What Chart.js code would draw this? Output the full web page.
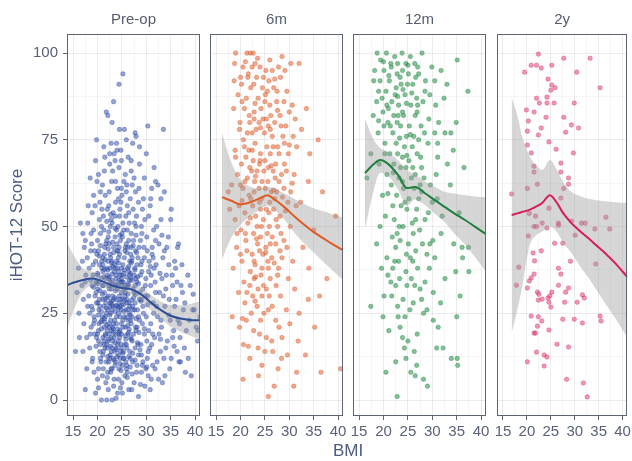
<!DOCTYPE html>
<html>
<head>
<meta charset="utf-8">
<script src="https://cdn.jsdelivr.net/npm/chart.js@4.4.1/dist/chart.umd.min.js"></script>
<style>
  html, body { margin: 0; padding: 0; background: #ffffff; }
  #wrap { position: relative; width: 632px; height: 461px; }
  #wrap canvas { position: absolute; left: 0; top: 0; }
</style>
</head>
<body>
<div id="wrap">
  <canvas id="p0" width="632" height="461"></canvas>
  <canvas id="p1" width="632" height="461"></canvas>
  <canvas id="p2" width="632" height="461"></canvas>
  <canvas id="p3" width="632" height="461"></canvas>
</div>
<script>
// Facets and axes
const panelNames = ['Pre-op', '6m', '12m', '2y'];
const xTicks = [15, 20, 25, 30, 35, 40];
const yTicks = [0, 25, 50, 75, 100];
const xLimits = [13.75, 41];
const yLimits = [-4.6, 105.5];
const xTitle = 'BMI';
const yTitle = 'iHOT-12 Score';

// Observations: [BMI, iHOT-12 score]
const preopPoints = [
  [25.2,94],[24.4,91],[23.3,86],[21.8,83],[22.1,82],[23,80],[30.3,79],[33.5,78],[25.5,78],[27.7,77],[27.9,76],[19.8,75],[22.8,74],[27.2,74],[24,72],[23.4,71],[24.8,72],[21.5,70],[26.3,70],[28.6,68],[30,71],[22.5,68],[23.1,66],[25.7,65],[24.4,67],[20.2,65],[18.5,64],[27.5,64],[31.9,63],[32.4,62],[33.7,60],[26,62],[21,62],[22.4,60],[24.1,61],[25,59],[28.5,61],[29.4,58],[20.5,57],[23.7,57],[26.7,58],[30.8,56],[19.5,56],[22,55],[24.6,55],[27.3,55],[21.2,53],[25.8,53],[28,53],[30.5,53],[33,52],[35,52],[18,51],[16.5,51],[23,51],[26.5,51],[29,50],[31.5,49],
  [17,48],[19.2,49],[20.6,48],[22.2,47],[23.9,49],[25.1,47],[26.9,48],[28.8,46],[30.1,47],[32.6,45],[34.2,44],[36.4,44],[20,46],[21.7,45],[23.3,44],[24.7,46],[26.2,44],[27.8,43],[29.5,44],[31.2,42],[33.4,41],[35.8,40],[38.5,36],[18.6,43],[19.9,42],[21.1,41],[22.6,42],[24,43],[25.5,41],[27,40],[28.3,41],[30.6,40],[32,39],[34.6,39],[16.9,40],[18.3,38],[20.4,39],[21.9,38],[23.5,39],[24.9,38],[26.4,37],[27.6,38],[29.1,37],[31,36],[33.2,35],[35.3,36],[37.1,33],[19.1,36],[20.8,35],[22.3,35],[23.8,36],[25.3,34],[26.8,35],[28.1,34],[29.8,33],[31.8,34],[34,32],[17.5,34],[18.9,33],[20.1,32],[21.4,31],[22.9,32],[24.2,33],[25.7,31],[27.3,32],[28.7,31],[30.3,30],[32.7,31],[36.1,29],[15.8,31],[19.5,30],[21.1,29],[22.6,28],[24.5,30],[26,29],[27.7,28],[29.3,27],[31.4,28],[33.8,27],[37.6,26],[39.5,26],[18,27],[20.3,26],[21.8,25],[23.2,27],[24.8,26],[26.5,25],[28.2,26],[30,24],[32.3,24],[34.9,23],[36.8,22],[19.3,24],[20.9,23],[22.4,22],[23.9,24],[25.2,23],[26.9,22],[28.6,23],[30.9,22],[33.1,21],[35.6,20],[17.2,22],[18.7,21],[20.2,20],[21.6,19],[23.1,21],[24.6,20],[26.2,19],[27.9,20],[29.6,19],[31.7,18],[34.3,17],[40.5,17],[19.8,18],[21.3,17],[22.8,18],[24.3,17],[25.6,16],[27.1,17],[28.9,16],[30.7,15],[32.9,14],[36.3,14],[18.4,15],[20.5,14],[22,15],[23.5,14],[24.9,15],[26.6,14],[28.4,13],[30.2,12],[33.6,12],[37,11],[19,12],[20.7,11],[22.5,12],[23.7,11],[25.4,12],[27.2,11],[29.2,10],[31.3,10],[34.8,9],[17.8,9],[21.2,9],[22.7,8],[24.4,9],[26.1,8],[28,8],[30.4,7],[32.5,6],[39.2,7],[20,6],[21.7,5],[23.4,6],[25,5],[27.5,5],[29.7,4],[33.3,5],[17.5,3],[22.2,3],[24.1,2],[26.4,3],[30.8,3],[20.8,0],[21.9,0],[23,0],[28.4,1],[19.6,2],
  [21.5,44],[22.9,40],[24.3,41],[25.9,45],[23.6,38],[22,36],[24.7,34],[26.3,33],[23.1,30],[21,33],[25.1,29],[22.7,25],[24,27],[25.8,26],[27,24],[23.3,22],[21.4,21],[24.9,19],[22.1,17],[26.8,18],[23.8,15],[25.3,14],[22.6,13],[24.6,12],[21.8,11],[26,10],[23,9],[20.6,16],[19.4,19],[20.1,28],[19.7,34],[21.1,37],[22.4,45],[23.6,47],[24.2,50],[22.8,52],[25.2,51],[26.1,49],[27.4,46],[28.5,44],[27.1,41],[28.9,39],[26.6,40],[29.9,35],[27.5,36],[28.6,29],[27.2,27],[29.4,25],[26.3,23],[28.1,21],[30.5,20],[27.7,15],[29,13],[31.1,16],[32.1,27],[33.5,30],[35.4,33],[31.6,38],[34.5,47],[36.5,23],[38.2,20],[37.8,15],[35.1,12],[39.8,26],[41,24],[22.3,33],[23.9,29],[24.6,24],[25.7,21],[23.4,18],[24.1,16],[25,36],[26.2,38],[24.5,42],[22.5,27],[21.6,24],[20.3,22],[19,26],[18.2,30],[17.6,36],[18.8,45],[16.2,25],[15.5,14],[20.9,40],[21.3,49],[23.2,54],[24.8,57],[26.1,56],[20.4,52],[19.2,59],[25.4,63],[27.8,60],[29.6,64],[23.6,69],[26.9,66],[21.3,73],[25.9,75],[29.1,48],[30.2,43],[31.9,46],[27.9,50],[24.4,19],[26.7,12],[22.9,20],[21.2,14],[20.2,9],[25.6,7],[27,3],[29,8],[31.8,9],[34,15],[36.9,18],[23.7,33],[25.5,32],[24.3,37],[22.1,40],[26.5,28],[27.4,19],[28.3,16],[25.1,10],[23.2,12],
  [20.2,43],[21.4,42],[22.7,41],[23.9,40],[25.2,39],[26.4,38.5],[27.7,37.5],[19.6,40],[20.9,38],[22.1,37.5],[23.4,37],[24.6,36],[25.9,35.5],[27.1,34.5],[28.4,33.5],[19.9,33.5],[21.2,33],[22.4,32],[23.7,31.5],[24.9,31],[26.2,30.5],[27.4,29.5],[28.9,28.5],[20.4,29],[21.7,28],[22.9,27.5],[24.2,26.5],[25.4,25.5],[26.7,24.5],[27.9,23.5],[29.2,22],[19.4,23],[20.7,22.5],[21.9,21.5],[23.2,20.5],[24.4,19.5],[25.7,18.5],[26.9,17.5],[28.2,16.5],[20.2,17],[21.4,16],[22.7,15.5],[23.9,14.5],[25.2,13.5],[26.4,12.5],[27.7,11.5],[21.1,13],[22.3,11],[23.6,10],[24.8,8.5],[26.1,6.5],[22,6.5],[23.3,4],[24.7,3.5],[27.8,30.5],[28.8,36],[29.6,41],[30.9,33],[31.5,25],[32.6,19],[30.1,17],[29.3,11],[31,6],[33.8,7],[35.8,27],[37.4,31],[38.8,23],[40.2,21],[36,38],[33.7,43],[32.1,50],[30.9,58],[28.4,57],[26.4,54],[24.5,53],[22.6,50],[20.8,50],[18.7,48],[17.9,41],[17.1,29],[18.5,19],[19.3,8],[18.9,54],[22.3,56],[24.9,61],[27.1,62],[23.7,63],[21.6,59],[19.9,63],[26.9,69],[24.5,78],[28.6,73],[31.6,67],[22.4,35.5],[23.7,33.5],[24.9,35],[26.1,32.5],[21.7,35],[25.5,37.5],[23.1,38.5],[24.3,39.5],[26.9,39.5],[22.5,24.5],[23.6,25.5],[24.9,22],[26.2,21.5],[21.3,27],[23.1,17],[24.7,14],[25.9,16],[22.8,28.5],[20.5,31.5],[19.8,28],[19.1,39],[18.6,34.5],[27.6,26],[28.5,19.5],[29.8,30],[30.5,37],[31.2,44],[27.3,44.5],[26,42.5],[24,45],[22.2,43.5],[20.6,44.5],[25.4,49],[23.6,53],[21.9,51.5],[27.9,47.5],[29.7,52],[17.5,46],[16.8,33],[16.3,18],[25.3,27.5],[24.1,20.5],[23.5,23],[22.4,19],[21.9,16],[26.6,27],[27.8,21],[25.6,30],[24.4,28],[23,34.5],[21,24],[20,19],[22.8,9],[24.3,6],[26.7,9.5],[28.8,4.5],[29.9,9],[25.1,2],[23.8,0.5],[27.2,13.5],[28.1,10],[30.4,14],[32.9,17.5],[34.6,24.5],[35.4,18],[36.7,11],[38,8],[34.1,36],[37.9,28],[39,33],[36.6,45],[35.1,55],[33,58],[31.1,61],[29.2,55],[24.6,47.5],[23.3,42.5],[25.7,44],[21.1,39],[20,36.5],[26.8,36.5],[28.1,39],[22.6,38],[24.1,32],[25,33],[26.5,34.5],[22,29.5],[23.2,28.8],[24.6,26.8],[25.9,23.8],[27,28.8],[21.5,22.5],[22.4,21],[23.7,19],[26.5,20.4],[20.8,25.5],[21.6,18.5],[23,15],[24.3,13],[25.8,11],[22.1,8],[21,7],[20.2,3.5],
  [20.4,41.5],[21.6,40.5],[22.9,39.5],[24.1,38],[25.4,36.5],[26.6,36],[27.9,35],[20.1,36],[21.3,35.5],[22.6,34],[23.8,35],[25,34],[26.3,33.5],[27.5,31],[19.7,31],[21,30.5],[22.2,30],[23.5,29.5],[24.7,29],[26,28],[27.2,26],[20.5,27],[21.8,26.5],[23,26],[24.3,25],[25.5,24],[26.8,23],[20.2,24.5],[21.4,23.5],[22.7,23],[23.9,22],[25.2,21],[26.4,19.5],[20.8,20.5],[22,20],[23.3,19.5],[24.5,18],[25.8,17.5],[21.1,18],[22.3,17.5],[23.6,16.5],[24.8,16],[26,15],[21.5,15],[22.8,14],[24,12.5],[25.3,12],[20.6,12],[22.1,12.5],[23.4,11.5],[24.6,10.5],[25.9,9],[27.1,7.5],[19.7,15.5],[19.2,22],[18.8,27],[19.4,43],[21.9,46],[23.1,45.5],[24.4,44],[25.6,43],[26.8,42],[28,42.5],[29.1,40],[22.3,48.5],[23.6,49.5],[25,48],[26.4,46],[27.6,51],[20.9,55],[22.7,53.5],[24.3,58],[25.9,60],[21.4,66],[23.9,74],[22.9,63],[28.2,35.5],[29.3,32],[29,29],[28.4,24],[29.6,20.5],[28.7,14.5],[30.3,27.5],[30.8,38.5],[31.9,31],[32.8,36.5],[31.4,41],[33.2,47.5],[34.7,29],[36.3,34],[33,23],[31.3,19],[30.1,9.5],[32.2,11],[35.7,15.5],[38.6,12],[37.3,39],[39.6,30.5],[40.6,20],[24.2,43],[26.9,44],[23,36.3],[22.1,26],[24.9,27.3],[26.3,26.2],[25.6,28.7],[23.7,27.2],[21.6,29.2],[22.9,33.3],[24.4,34.6],[25.7,33],[27.7,33],[21.4,37.7],[20.3,34],[19.2,32.5],[18.4,25],[17.8,18],[18.9,11],[17,14],[16.1,38],[17.3,44],[18.1,56],[20.6,60],[19.6,69],[22.5,71],[24.9,69]
];

const sixMonthPoints = [
  [19,100],[21.3,100],[22,100],[22.6,100],[28.5,99],[30.3,97],[32,97],[18.8,97],[20.5,96],[22.4,96],[24,96],[25.2,95],[26.5,95],[27.8,96],[29.1,95],[21.5,93],[23.3,93],[25.8,92],[28.2,93],[20.2,91],[22.1,90],[24.5,90],[26.8,90],[29.5,89],[19.5,88],[21.2,87],[23.6,87],[25.1,88],[27.4,86],[30.6,85],[33.5,84],[18.6,84],[20.8,84],[22.8,83],[24.2,84],[26.2,82],[28.1,82],[31.2,81],[21.9,80],[23.8,80],[25.7,79],[27,80],[29.3,79],[32.5,78],[19.8,78],[22.4,77],[24.9,77],[26.5,76],[28.7,76],[30.8,76],[35.9,75],[20.6,75],[23,74],[25.4,73],[27.6,73],[31.5,73],[18.9,72],[21.7,72],[24.1,71],[26.1,71],[29.8,71],[34.2,71],[22.6,69],[25,69],[27.2,68],[29,68],[20.2,68],[23.4,66],[24.8,66],[26.7,66],[28.4,65],[31,65],[19.4,65],[21.4,64],[22.9,63],[25.6,63],[27.9,63],[33.9,63],[18.2,62],[20.5,61],[23.8,61],[26.3,60],[28.9,61],[30.3,60],[36.8,60],[21.8,59],[24.3,58],[27,58],[29.7,57],[32.3,57],[19.7,56],[22.5,56],[25.3,55],[26.8,55],[31.4,56],[17.8,55],[20.9,54],[23.1,53],[24.7,52],[28.1,53],[39.5,53],[18.9,52],[21.5,51],[25.9,50],[27.6,50],[30.2,50],[35,49],[20.1,49],[22.7,48],[24.1,47],[26.5,47],[28.9,46],[23.5,45],[25.2,44],[27.2,45],[29.5,44],[32.8,44],[19.2,44],[21.3,43],[22.4,42],[24.6,42],[26.4,41],[28.5,41],[30.7,40],[34,38],[20.3,40],[23,39],[25.7,38],[27.8,38],[22,37],[24.2,36],[26.1,35],[29.8,35],[37.7,35],[20.7,34],[21.9,33],[23.6,32],[25.3,32],[27.3,33],[31.1,32],[19.6,31],[22.5,30],[24.4,30],[28.2,30],[33.9,29],[36.2,30],[20.9,28],[23.4,27],[25.7,26],[29.4,26],[32,25],[18.3,24],[21.2,23],[24.1,23],[27.2,23],[30.1,22],[35.2,21],[19.8,21],[22.7,20],[25.3,18],[28.5,18],[31.8,17],[20.6,16],[23.6,15],[26.6,14],[29.6,13],[33.3,13],[21.9,12],[24.4,10],[27.7,9],[31.5,8],[36.5,8],[20.5,6],[23.7,7],[26.9,4],[30.9,4],[25.7,1],[40.5,9],[22.8,81],[24.6,81],[23.2,78],[21.1,70],[23.9,68],[22.3,66],[24.4,63],[26,85],[27.5,89],[25,86],[26.7,73],[25.7,67],[22.1,58],[24.1,55],[26,57],[23.4,50],[25.5,48],[21.1,46],[23.9,43],[22.8,35],[24.7,33],[25.6,40],[28.3,48],[27.4,60],[29,74],[30,83],[20.3,86],[21.6,94],[23,97],[18.7,92],[19.9,80],[19,70],[20,62],[19.3,48],[18.5,38],[17.5,60],
  [21,97.5],[23.5,98.5],[26,98],[24.7,93],[27,92.5],[22.7,91],[20,93],[25.5,89],[28.9,86],[23,85.5],[21.8,82],[27.6,83.5],[25.3,81],[24.1,78.5],[26.1,78],[28.3,79],[21.4,77],[20.8,73],[22.4,72],[27.9,71],[30,73.5],[24,69],[26.3,67.5],[21.9,67],[29.4,66],[23.1,64.5],[27.1,64],[20.9,63],[25.1,61],[30.6,62.5],[22.8,60],[26.8,60.5],[28.6,58.5],[23.9,57],[20.3,57.5],[25.8,54],[29.2,54.5],[22,52.5],[27.3,52],[24.3,50],[21,48],[26.1,45],[23.3,46.5],[28.1,43],[25.2,42.5],[22.8,40],[20,42],[26.9,39.5],[24.4,38],[23.1,35.5],[27.6,36],[21.3,31],[25.9,30],[23,28.5],[26.5,27],[22.2,25],[24.8,25],[20.4,23.5],[27.9,21],[23.9,19],[26.4,17],[21.6,15.5],[25,14],[28.4,12]
];

const twelveMonthPoints = [
  [18.7,100],[20.6,100],[22.3,99],[23.8,100],[25.5,99],[27.9,100],[19.4,98],[21.5,97],[24.6,97],[26.4,97],[29.9,96],[35.1,98],[18.2,95],[20.1,95],[22.8,94],[25.1,94],[27.2,94],[31.8,95],[19.3,92],[21.2,92],[23.6,91],[26,91],[28.6,92],[33,91],[20.5,89],[22.4,88],[24.4,88],[26.8,87],[37.3,89],[18.6,86],[21.7,86],[23.1,85],[25.6,85],[28.1,86],[30.7,85],[19.9,83],[22.1,82],[24.1,82],[26.5,82],[29.3,81],[20.9,80],[23.5,79],[25.3,79],[27.7,79],[31.3,80],[34.9,80],[18.9,77],[21.9,77],[24.7,76],[26.2,76],[28.4,77],[30.5,77],[32.6,77],[33.8,77],[20.3,74],[22.6,74],[25.9,73],[29.1,74],[17.4,71],[21.3,71],[23.9,70],[26.9,71],[31.1,70],[19.1,68],[22.1,68],[24.6,67],[27.8,67],[36.5,67],[20.7,65],[23.2,64],[25.7,64],[28.3,64],[16.6,64],[21.6,62],[24.1,61],[26.3,61],[29.6,62],[33.7,62],[19.8,59],[22.7,59],[25.2,58],[27.2,58],[31,58],[23.6,56],[24.8,55],[26.8,55],[29.2,54],[35.5,54],[20.4,53],[22.2,52],[25.9,51],[28.5,52],[24,50],[26.1,48],[27.4,49],[31.8,48],[21.8,47],[23.4,46],[25.1,45],[28,45],[30.1,46],[34.4,45],[36.1,44],[37.4,44],[22.5,44],[26.6,43],[24.7,42],[28.9,42],[20.7,41],[23.1,40],[26,40],[30.5,41],[19.6,38],[21.9,38],[24.6,37],[27,38],[29.4,38],[37.5,37],[20.9,36],[23.3,35],[25.7,35],[28.5,34],[32.6,35],[22.5,33],[26.4,33],[27.5,32],[30.2,31],[35.7,30],[20.1,30],[24,29],[26.1,28],[31.7,28],[17.4,27],[22.9,27],[25.4,26],[28.9,26],[35,24],[19.9,24],[24.4,24],[30.2,23],[31.2,21],[21.1,20],[23.9,18],[25,17],[24.3,15],[26.3,14],[30.9,15],[32.2,15],[33.9,12],[35.1,12],[22.5,11],[24.6,12],[26.8,10],[35.2,10],[20.5,8],[25.6,8],[26.5,7],[28.2,6],[29,4],[22.8,1],[21.6,96],[23.4,93],[22.6,90],[24.9,91],[21,84],[23.9,83],[22.8,80],[20.1,79],[24.3,73],[22.9,71],[25.2,69],[23.5,67],[27.6,70],[27,85],[29.5,88],[30.5,92],[32.4,87],[31.1,74],[33.1,68],[21.9,56],[19.3,50],[18.6,45],[23.2,50],[27.8,60],[30,57],[26.5,65],[22.3,40],[24.8,33],[21.7,30],[23,24],[26.9,19],[28.2,25],[34.8,37],[36.2,41],[19,89],[17.9,82],[18,92],
  [20,97.5],[22.9,97],[25,96.5],[27,96],[23.9,95],[21.1,93.5],[26.6,93],[24,89.5],[19.7,87],[22.9,87.5],[25.8,88.5],[28.5,89],[20.7,85],[24.7,85.5],[26.9,83],[23,82],[19,80.5],[21.4,79],[25.5,76.5],[23.3,75.5],[27.2,75],[20.3,71],[24.8,70.5],[22,65.5],[26,67],[23.9,63],[27.5,62],[20.9,59.5],[24.4,57],[26.6,52],[22.8,48],[25.5,41],[21.5,34],[27.8,29],[23.4,21],[29.5,45],[32,53],[30.8,65],[34.3,72]
];

const twoYearPoints = [
  [22.4,99.7],[27.7,98.5],[33.2,98.5],[19.5,94.5],[20.9,96.5],[22,96.5],[23,95.7],[25.2,96.5],[30.4,94.5],[35.3,90],[24.4,92.5],[25.2,90.8],[25,89.3],[24.2,87.3],[25.9,90],[22,87],[19.9,83.6],[22.6,85.6],[24.2,85.6],[25.7,85.6],[29.9,85.6],[21.5,83],[20.3,80.4],[24,81.5],[27.7,81.5],[23,78.4],[29.3,79.3],[30.8,78.4],[20.1,77.5],[22.4,76.4],[28.1,77.2],[20.1,73.5],[24.6,74.4],[20.9,71.2],[26.1,72.3],[29.7,71.2],[21.5,67.4],[27.1,68.3],[21.5,65.7],[27.1,65.7],[28.7,64],[28.7,62.2],[22.2,62.2],[16.8,59.4],[20.1,61],[27.7,61],[36.5,52.7],[24.6,55.3],[27.1,58.2],
  [20.5,53.8],[21.8,53],[23.2,51],[26.6,51],[29.3,51.6],[31.4,51],
  [21.5,50],[24.2,49.6],[22,50],[26.6,50.4],[32.2,51],[34.2,49.3],[37.3,49.3],[20.3,47.3],[30.1,47.5],[25.8,45.2],[27.5,45.2],[21.3,42.4],[23,43],[21.6,40.1],[18.3,38.3],[29.1,40],[34.4,39.2],[26.6,38],[21.5,36.3],[27.1,36.3],[20.9,35.2],[20.5,34.3],[17.8,33.1],[20.1,32.3],[26.6,33.1],[28.7,32.3],[28.1,31.1],[22.2,31.1],[22.5,30.5],[25.2,31.1],[24.8,30],[24.4,29.4],[23.2,29.1],[22.4,28.8],[24.6,28.2],[25,26.8],[27.9,28.2],[30.5,28.2],[31.6,30.3],[32,29.4],[20.9,24.2],[22.4,24],[23.1,22.8],[27.5,23.3],[29.9,23.3],[31.6,22.2],[35.3,24.2],[35.5,22.8],[22.2,21.3],[21.5,19.3],[21.8,19.3],[24.6,20.2],[26.3,16.1],[28.7,15.3],[22,13.8],[23.6,13],[24.2,12.4],[20.1,11],[23.6,9.8],[28.3,6],[31.8,4.9],[32.6,0.9]
];

// Loess fits with 95% confidence bands
const preopFitX  = [13.75, 15, 17, 19, 21, 23, 25, 27, 29, 31, 33, 35, 37, 39, 41];
const preopFit   = [33.1, 33.8, 34.6, 35, 34.2, 33, 32.3, 31.9, 30.4, 28, 25.9, 24.3, 23.5, 23.1, 23];
const preopUpper = [45.5, 42, 38, 37, 35.8, 34.4, 33.6, 33.4, 32.3, 30.2, 28.4, 27.4, 27.3, 27.7, 28.5];
const preopLower = [20.5, 25.5, 31.2, 33, 32.6, 31.6, 31, 30.4, 28.5, 25.8, 23.4, 21.2, 19.7, 18.5, 17.6];

const sixMonthFitX  = [16.2, 18, 20, 22, 24, 25.5, 27, 29, 31, 33, 35, 37, 39, 41];
const sixMonthFit   = [58.5, 57.5, 56.4, 57, 58.2, 59, 57.8, 55.6, 53, 50.6, 48.4, 46.6, 44.8, 43.2];
const sixMonthUpper = [77, 69, 63.5, 61.5, 61, 61.5, 61, 59.5, 58, 56.5, 55.3, 54.4, 53.5, 52.7];
const sixMonthLower = [40.5, 46.5, 50.5, 53, 55, 56, 54.8, 52, 48.3, 45.2, 42.5, 39.8, 37.2, 34.6];

const twelveMonthFitX  = [16.2, 18, 19.3, 21, 23, 24.8, 26.5, 28.5, 30.5, 32.6, 34.5, 36.7, 38.7, 41];
const twelveMonthFit   = [65.4, 68, 69.2, 68, 64.8, 61.1, 61.4, 59.6, 57.6, 55.6, 53.8, 51.9, 50, 47.8];
const twelveMonthUpper = [81, 75, 72.7, 71.5, 69, 66.3, 65, 63, 61.5, 60, 59.5, 59, 58.7, 58.5];
const twelveMonthLower = [49.5, 60.5, 65.5, 64.5, 60.6, 56, 57.8, 56.2, 53.7, 51.2, 48, 44.8, 41.3, 37];

const twoYearFitX  = [16.8, 18, 19, 20.5, 22, 23.2, 24.8, 26.3, 27.5, 29.3, 31, 32.8, 34.5, 36.3, 38.5, 41];
const twoYearFit   = [53.3, 53.8, 54.2, 54.8, 55.8, 56.8, 59, 56.8, 54, 51, 48.8, 46.7, 44.6, 42.4, 39.4, 35.4];
const twoYearUpper = [87.3, 82, 76, 70.5, 67.5, 66.3, 69.2, 66.3, 63, 60, 58.8, 58, 57.6, 57.3, 57, 56.8];
const twoYearLower = [19.3, 26, 32.5, 44.2, 47.6, 48.5, 50, 48.4, 45.5, 42.4, 38.8, 35.4, 31.8, 28, 23.5, 18];

const panels = [
  { name: panelNames[0], points: preopPoints, fitX: preopFitX, fit: preopFit, upper: preopUpper, lower: preopLower,
    pointColor: 'rgba(56,90,180,0.55)', pointEdge: 'rgba(30,50,130,0.45)', lineColor: '#2d4e97' },
  { name: panelNames[1], points: sixMonthPoints, fitX: sixMonthFitX, fit: sixMonthFit, upper: sixMonthUpper, lower: sixMonthLower,
    pointColor: 'rgba(232,104,52,0.58)', pointEdge: 'rgba(190,70,30,0.45)', lineColor: '#df5a22' },
  { name: panelNames[2], points: twelveMonthPoints, fitX: twelveMonthFitX, fit: twelveMonthFit, upper: twelveMonthUpper, lower: twelveMonthLower,
    pointColor: 'rgba(40,148,74,0.58)', pointEdge: 'rgba(20,110,50,0.45)', lineColor: '#1f7f3e' },
  { name: panelNames[3], points: twoYearPoints, fitX: twoYearFitX, fit: twoYearFit, upper: twoYearUpper, lower: twoYearLower,
    pointColor: 'rgba(228,62,118,0.55)', pointEdge: 'rgba(190,30,80,0.45)', lineColor: '#d81b5e' }
];

// Panel boxes (pixels)
const boxLeft = [67, 210, 353, 497];
const boxRight = [200, 343, 486, 629];
const boxTop = 34;
const boxBottom = 416;
const W = 632, H = 461;

const FONT = "'Liberation Sans', Arial, Helvetica, sans-serif";
const tickText = '#59627a';
const titleText = '#4c5c82';
const frameColor = '#5c6476';
const majorGrid = 'rgba(0,0,0,0.075)';
const minorGrid = 'rgba(0,0,0,0.035)';

function withMinors(majors) {
  const out = [];
  majors.forEach((v, i) => {
    out.push({ value: v });
    if (i < majors.length - 1) out.push({ value: (v + majors[i + 1]) / 2 });
  });
  return out;
}

const decor = {
  id: 'decor',
  afterDatasetsDraw(chart, args, opts) {
    const { ctx, chartArea: a } = chart;
    ctx.save();
    ctx.strokeStyle = frameColor;
    ctx.lineWidth = 1;
    ctx.strokeRect(Math.round(a.left) + 0.5, Math.round(a.top) + 0.5,
                   Math.round(a.right - a.left) - 1, Math.round(a.bottom - a.top) - 1);
    ctx.fillStyle = '#555d6e';
    ctx.font = '15px ' + FONT;
    ctx.textAlign = 'center';
    ctx.textBaseline = 'middle';
    ctx.fillText(opts.label, (a.left + a.right) / 2, 20);
    if (opts.showXTitle) {
      ctx.fillStyle = titleText;
      ctx.font = '17px ' + FONT;
      ctx.fillText(xTitle, (boxLeft[0] + boxRight[3]) / 2, 451);
    }
    ctx.restore();
  }
};

panels.forEach((p, i) => {
  const first = i === 0;
  new Chart(document.getElementById('p' + i), {
    type: 'scatter',
    data: {
      datasets: [
        {
          type: 'line',
          data: p.fitX.map((x, k) => ({ x, y: p.upper[k] })),
          borderWidth: 0, borderColor: 'rgba(0,0,0,0)', pointRadius: 0,
          backgroundColor: 'rgba(153,153,153,0.4)', fill: '+1',
          cubicInterpolationMode: 'monotone', order: 2
        },
        {
          type: 'line',
          data: p.fitX.map((x, k) => ({ x, y: p.lower[k] })),
          borderWidth: 0, borderColor: 'rgba(0,0,0,0)', pointRadius: 0, fill: false,
          cubicInterpolationMode: 'monotone', order: 2
        },
        {
          type: 'line',
          data: p.fitX.map((x, k) => ({ x, y: p.fit[k] })),
          borderColor: p.lineColor, borderWidth: 2, pointRadius: 0, fill: false,
          cubicInterpolationMode: 'monotone', order: 1
        },
        {
          type: 'scatter',
          data: p.points.map(d => ({ x: d[0], y: d[1] })),
          backgroundColor: p.pointColor, borderColor: p.pointEdge, borderWidth: 0.6,
          pointRadius: 2.3, order: 3
        }
      ]
    },
    options: {
      responsive: false,
      animation: false,
      events: [],
      layout: { padding: { left: first ? 0 : boxLeft[i], right: W - boxRight[i], top: boxTop, bottom: 0 } },
      plugins: {
        legend: { display: false },
        tooltip: { enabled: false },
        decor: { label: p.name, showXTitle: first }
      },
      scales: {
        x: {
          type: 'linear',
          min: xLimits[0], max: xLimits[1],
          afterBuildTicks: s => { s.ticks = withMinors(xTicks); },
          afterFit: s => { s.height = H - boxBottom; s.paddingLeft = 0; s.paddingRight = 0; },
          border: { display: false },
          grid: {
            color: c => xTicks.includes(c.tick.value) ? majorGrid : minorGrid,
            tickColor: c => xTicks.includes(c.tick.value) ? frameColor : 'rgba(0,0,0,0)',
            tickLength: 4, tickWidth: 1
          },
          ticks: {
            color: tickText, font: { family: FONT, size: 15 }, padding: 3, maxRotation: 0,
            autoSkip: false,
            callback: v => xTicks.includes(v) ? String(v) : ''
          }
        },
        y: {
          type: 'linear',
          min: yLimits[0], max: yLimits[1],
          afterBuildTicks: s => { s.ticks = withMinors(yTicks); },
          afterFit: s => { s.width = first ? boxLeft[0] : 0; s.paddingTop = 0; s.paddingBottom = 0; },
          border: { display: false },
          grid: {
            color: c => yTicks.includes(c.tick.value) ? majorGrid : minorGrid,
            tickColor: c => yTicks.includes(c.tick.value) ? frameColor : 'rgba(0,0,0,0)',
            tickLength: 4, tickWidth: 1, drawTicks: first
          },
          ticks: {
            display: first,
            color: tickText, font: { family: FONT, size: 15 }, padding: 5,
            autoSkip: false,
            callback: v => yTicks.includes(v) ? String(v) : ''
          },
          title: {
            display: first, text: yTitle, color: titleText,
            font: { family: FONT, size: 17 }, padding: { top: 7, bottom: 0 }
          }
        }
      }
    },
    plugins: [decor]
  });
});
</script>
</body>
</html>
